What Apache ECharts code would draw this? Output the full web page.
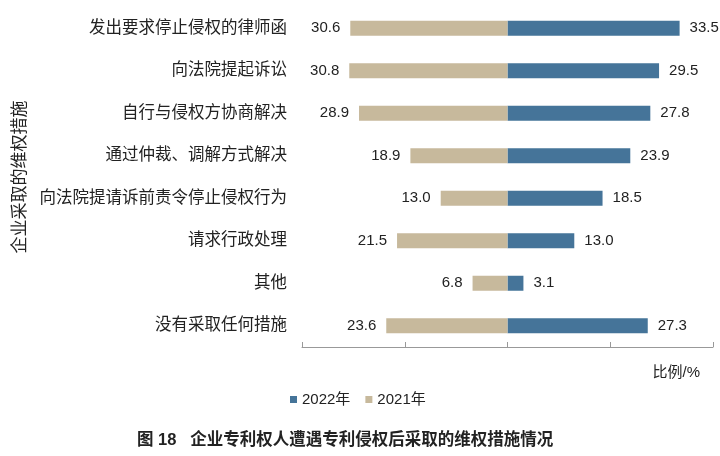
<!DOCTYPE html>
<html lang="zh">
<head>
  <meta charset="utf-8" />
  <title>维权措施</title>
  <script src="https://cdn.jsdelivr.net/npm/echarts@6.0.0/dist/echarts.min.js"></script>
  <style>
    html, body { margin: 0; padding: 0; background: #fff; }
  </style>
</head>
<body>
  <div id="main" style="width: 720px;height:456px;"></div>
  <script>
    var categories = [
      '发出要求停止侵权的律师函',
      '向法院提起诉讼',
      '自行与侵权方协商解决',
      '通过仲裁、调解方式解决',
      '向法院提请诉前责令停止侵权行为',
      '请求行政处理',
      '其他',
      '没有采取任何措施'
    ];
    var values2022 = [33.5, 29.5, 27.8, 23.9, 18.5, 13.0, 3.1, 27.3];
    var values2021 = [30.6, 30.8, 28.9, 18.9, 13.0, 21.5, 6.8, 23.6];

    var fontCn = '"Liberation Sans", "Noto Sans CJK SC", sans-serif';
    var textColor = '#222';

    var chartDom = document.getElementById('main');
    var myChart = echarts.init(chartDom);

    var option = {
      animation: false,
      textStyle: { fontFamily: fontCn, color: textColor },
      title: {
        text: '图 18   企业专利权人遭遇专利侵权后采取的维权措施情况',
        left: 132,
        top: 427,
        textStyle: { fontSize: 16.5, fontWeight: 'bold', color: textColor, fontFamily: fontCn }
      },
      legend: {
        data: ['2022年', '2021年'],
        left: 285,
        top: 387,
        itemWidth: 7,
        itemHeight: 7,
        itemGap: 15,
        icon: 'rect',
        textStyle: { fontSize: 15, color: textColor, fontFamily: fontCn }
      },
      grid: {
        left: 302,
        right: 7,
        top: 7,
        bottom: 109,
        containLabel: false
      },
      xAxis: {
        type: 'value',
        min: -40,
        max: 40,
        interval: 20,
        name: '比例/%',
        nameLocation: 'end',
        nameGap: -13,
        nameTextStyle: {
          align: 'right',
          verticalAlign: 'top',
          padding: [18, 0, 0, 0],
          fontSize: 15,
          color: textColor
        },
        axisLine: { show: true, lineStyle: { color: '#999', width: 1 } },
        axisTick: { show: true, inside: true, length: 5, lineStyle: { color: '#999' } },
        axisLabel: { show: false },
        splitLine: { show: false }
      },
      yAxis: {
        type: 'category',
        data: categories,
        inverse: true,
        name: '企业采取的维权措施',
        nameLocation: 'middle',
        nameRotate: 90,
        nameGap: 263,
        nameTextStyle: {
          fontSize: 17,
          color: textColor
        },
        axisLine: { show: false },
        axisTick: { show: false },
        axisLabel: { margin: 15, fontSize: 16.5, color: textColor }
      },
      series: [
        {
          name: '2022年',
          type: 'bar',
          stack: 'all',
          barWidth: 15,
          itemStyle: { color: '#457499' },
          label: {
            show: true,
            position: 'right',
            distance: 10,
            fontSize: 15,
            color: textColor,
            formatter: function (p) { return Math.abs(p.value).toFixed(1); }
          },
          data: values2022
        },
        {
          name: '2021年',
          type: 'bar',
          stack: 'all',
          barWidth: 15,
          itemStyle: { color: '#c7b99c' },
          label: {
            show: true,
            position: 'left',
            distance: 10,
            fontSize: 15,
            color: textColor,
            formatter: function (p) { return Math.abs(p.value).toFixed(1); }
          },
          data: values2021.map(function (v) { return -v; })
        }
      ]
    };

    myChart.setOption(option);
  </script>
</body>
</html>
